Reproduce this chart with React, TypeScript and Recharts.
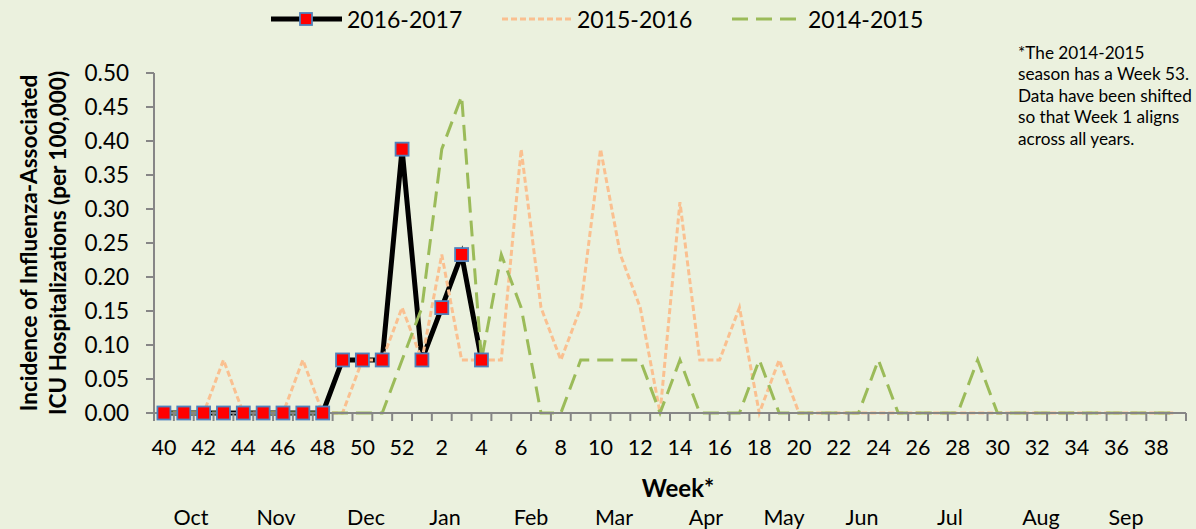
import React from 'react';
import { LineChart, Line, XAxis, YAxis } from 'recharts';

// ---------- data ----------
const weeks: string[] = [
  '40', '41', '42', '43', '44', '45', '46', '47', '48', '49', '50', '51', '52',
  '1', '2', '3', '4', '5', '6', '7', '8', '9', '10', '11', '12', '13', '14', '15', '16', '17', '18', '19', '20',
  '21', '22', '23', '24', '25', '26', '27', '28', '29', '30', '31', '32', '33', '34', '35', '36', '37', '38', '39',
];

const season1617: (number | null)[] = [
  0, 0, 0, 0, 0, 0, 0, 0, 0, 0.078, 0.078, 0.078, 0.388,
  0.078, 0.155, 0.233, 0.078,
];

const season1516: number[] = [
  0, 0, 0, 0.078, 0, 0, 0, 0.078, 0, 0, 0.078, 0.078, 0.155,
  0.078, 0.233, 0.078, 0.078, 0.078, 0.388, 0.155, 0.078, 0.155, 0.388, 0.233, 0.155, 0, 0.31, 0.078, 0.078, 0.155, 0, 0.078, 0,
  0, 0, 0, 0, 0, 0, 0, 0, 0, 0, 0, 0, 0, 0, 0, 0, 0, 0, 0,
];

const season1415: number[] = [
  0, 0, 0, 0, 0, 0, 0, 0, 0, 0, 0, 0, 0.078,
  0.155, 0.388, 0.466, 0.078, 0.233, 0.155, 0, 0, 0.078, 0.078, 0.078, 0.078, 0, 0.078, 0, 0, 0, 0.078, 0, 0,
  0, 0, 0, 0.078, 0, 0, 0, 0, 0.078, 0, 0, 0, 0, 0, 0, 0, 0, 0, 0,
];

const yTicks: number[] = [0, 0.05, 0.1, 0.15, 0.2, 0.25, 0.3, 0.35, 0.4, 0.45, 0.5];

const seriesNames = ['2016-2017', '2015-2016', '2014-2015'];
const months: string[] = ['Oct', 'Nov', 'Dec', 'Jan', 'Feb', 'Mar', 'Apr', 'May', 'Jun', 'Jul', 'Aug', 'Sep'];
const noteLines: string[] = [
  '*The 2014-2015',
  'season has a Week 53.',
  'Data have been shifted',
  'so that Week 1 aligns',
  'across all years.',
];
const yTitleLines: string[] = ['Incidence of Influenza-Associated', 'ICU Hospitalizations (per 100,000)'];
const xTitle = 'Week*';

// ---------- layout / style ----------
const W = 1196;
const H = 529;
const PLOT_LEFT = 154;
const PLOT_RIGHT = 1186;
const PLOT_TOP = 73;
const PLOT_BOTTOM = 413;
const BAND = (PLOT_RIGHT - PLOT_LEFT) / weeks.length;
const BG = '#EBF1DE';
const AXIS = '#868686';
const FONT = 'Lato, "Open Sans", sans-serif';
const X_TICK_SIZE = 8;
const X_TICK_MARGIN = 19;
const monthX: number[] = [191, 276, 366, 445, 531, 614, 706, 784, 862, 950, 1041, 1126];

const data = weeks.map((w, i) => ({
  week: w,
  s1617: i < season1617.length ? season1617[i] : null,
  s1516: season1516[i],
  s1415: season1415[i],
}));

const SquareDot = (props: any) => {
  const { cx, cy, value } = props;
  if (cx == null || cy == null || value == null) return <g />;
  const s = 13;
  return (
    <rect x={cx - s / 2} y={cy - s / 2} width={s} height={s} fill="#FF0000" stroke="#4F81BD" strokeWidth={1.8} />
  );
};

const XTick = (props: any) => {
  const { x, y, payload, index } = props;
  const axisY = y - X_TICK_SIZE - X_TICK_MARGIN;
  const i = index ?? payload.index;
  return (
    <g>
      <line x1={x - BAND / 2} x2={x - BAND / 2} y1={axisY} y2={axisY + X_TICK_SIZE} stroke={AXIS} strokeWidth={2} />
      {i === weeks.length - 1 && (
        <line x1={x + BAND / 2} x2={x + BAND / 2} y1={axisY} y2={axisY + X_TICK_SIZE} stroke={AXIS} strokeWidth={2} />
      )}
      {i % 2 === 0 && (
        <text x={x} y={y} dy="0.71em" textAnchor="middle" fontSize={21.5} fill="#000" fontFamily={FONT}>
          {payload.value}
        </text>
      )}
    </g>
  );
};

const legendItems = [
  { name: seriesNames[0], lineX: 271, textX: 347 },
  { name: seriesNames[1], lineX: 502, textX: 577 },
  { name: seriesNames[2], lineX: 732, textX: 808 },
];

export default function App() {
  return (
    <div style={{ position: 'absolute', left: 0, top: 0, width: W, height: H, background: BG, fontFamily: FONT }}>
      <LineChart
        width={W}
        height={H}
        data={data}
        margin={{ top: PLOT_TOP, right: W - PLOT_RIGHT, left: 0, bottom: 0 }}
      >
        <XAxis
          dataKey="week"
          scale="band"
          interval={0}
          height={H - PLOT_BOTTOM}
          axisLine={{ stroke: AXIS, strokeWidth: 2 }}
          tickLine={false}
          tickSize={X_TICK_SIZE}
          tickMargin={X_TICK_MARGIN}
          tick={<XTick />}
        />
        <YAxis
          domain={[0, 0.5]}
          ticks={yTicks}
          width={PLOT_LEFT}
          interval={0}
          axisLine={{ stroke: AXIS, strokeWidth: 2 }}
          tickLine={{ stroke: AXIS, strokeWidth: 2 }}
          tickSize={8}
          tickMargin={17}
          tickFormatter={(v: number) => v.toFixed(2)}
          tick={{ fontSize: 22.5, fill: '#000', fontFamily: FONT }}
        />
        <Line
          name={seriesNames[0]}
          dataKey="s1617"
          stroke="#000"
          strokeWidth={5}
          dot={<SquareDot />}
          activeDot={false}
          isAnimationActive={false}
        />
        <Line
          name={seriesNames[1]}
          dataKey="s1516"
          stroke="#FAC090"
          strokeWidth={3}
          strokeDasharray="6 3"
          dot={false}
          activeDot={false}
          isAnimationActive={false}
        />
        <Line
          name={seriesNames[2]}
          dataKey="s1415"
          stroke="#9BBB59"
          strokeWidth={3}
          strokeDasharray="16 8"
          dot={false}
          activeDot={false}
          isAnimationActive={false}
        />
      </LineChart>
      <svg width={W} height={H} style={{ position: 'absolute', left: 0, top: 0, pointerEvents: 'none' }}>
        <line x1={legendItems[0].lineX} x2={legendItems[0].lineX + 71} y1={19} y2={19} stroke="#000" strokeWidth={5} />
        <rect x={legendItems[0].lineX + 29} y={13} width={12} height={12} fill="#FF0000" stroke="#4F81BD" strokeWidth={1.8} />
        <line x1={legendItems[1].lineX} x2={legendItems[1].lineX + 69} y1={19} y2={19} stroke="#FAC090" strokeWidth={3} strokeDasharray="6 3" />
        <line x1={legendItems[2].lineX} x2={legendItems[2].lineX + 69} y1={19} y2={19} stroke="#9BBB59" strokeWidth={3} strokeDasharray="16 8" />
        {legendItems.map((it) => (
          <text key={it.name} x={it.textX} y={19} dominantBaseline="central" fontSize={23} fontFamily={FONT} fill="#000">
            {it.name}
          </text>
        ))}
        {yTitleLines.map((t, i) => {
          const cx = 28 + i * 29;
          const cy = 243;
          return (
            <text
              key={t}
              x={cx}
              y={cy}
              transform={`rotate(-90, ${cx}, ${cy})`}
              textAnchor="middle"
              dominantBaseline="central"
              fontSize={22.5}
              fontWeight="bold"
              fontFamily={FONT}
              fill="#000"
            >
              {t}
            </text>
          );
        })}
        <text x={678} y={487} textAnchor="middle" dominantBaseline="central" fontSize={24} fontWeight="bold" fontFamily={FONT} fill="#000">
          {xTitle}
        </text>
        {months.map((m, i) => (
          <text key={m} x={monthX[i]} y={517} textAnchor="middle" dominantBaseline="central" fontSize={21.5} fontFamily={FONT} fill="#000">
            {m}
          </text>
        ))}
        {noteLines.map((l, i) => (
          <text key={l} x={1018} y={52 + i * 21.5} dominantBaseline="central" fontSize={17.2} fontFamily={FONT} fill="#000">
            {l}
          </text>
        ))}
      </svg>
    </div>
  );
}
